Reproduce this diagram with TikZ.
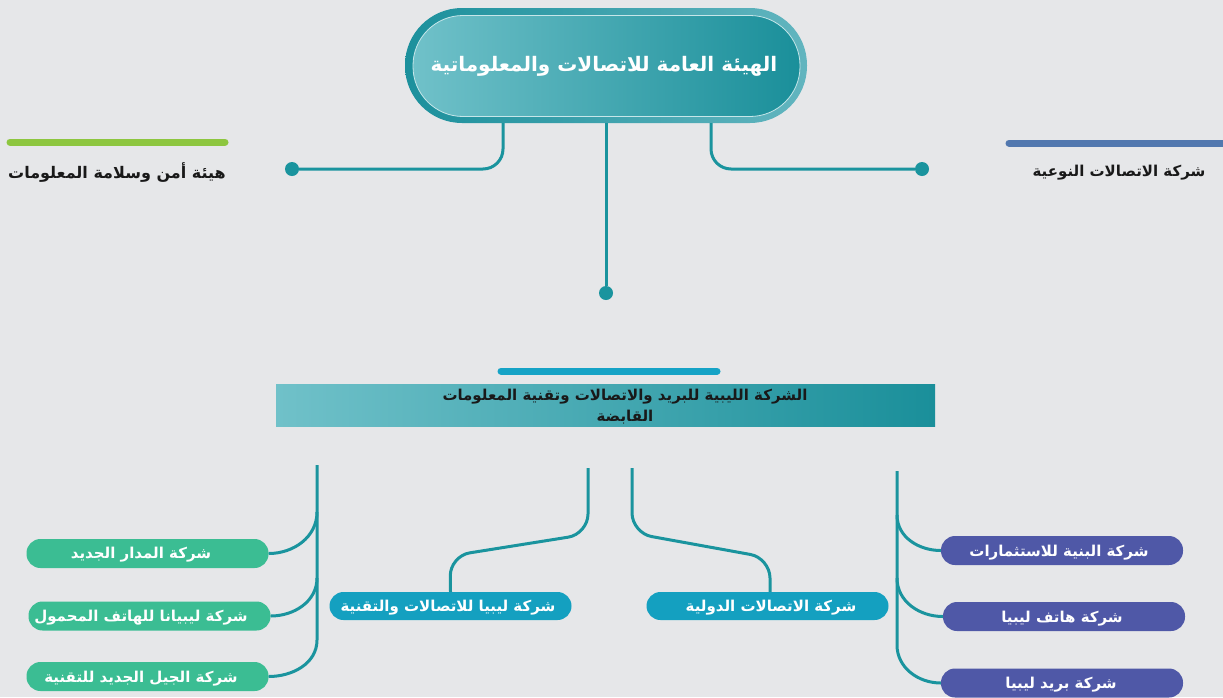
\documentclass[tikz,border=0pt]{standalone}
\usepackage{fontspec}
\TeXXeTstate=1
\newfontfamily\arabicfont[Script=Arabic]{DejaVu Sans}
\definecolor{bgC}{HTML}{E6E7E9}
\definecolor{lineC}{HTML}{1A949E}
\definecolor{greenC}{HTML}{3BBD93}
\definecolor{purpleC}{HTML}{4F58A7}
\definecolor{midC}{HTML}{14A0C0}
\definecolor{barC}{HTML}{16A3C6}
\definecolor{limeC}{HTML}{8DC63F}
\definecolor{steelC}{HTML}{5278AF}
\definecolor{tealDk}{HTML}{1A8F9A}
\definecolor{tealLt}{HTML}{70C1C9}
\definecolor{outerL}{HTML}{1C909C}
\definecolor{outerR}{HTML}{62B5BF}
\tikzset{
  conn/.style={draw=lineC, line width=3pt, rounded corners=20pt},
  dotn/.style={circle, fill=lineC, minimum size=14pt, inner sep=0pt},
  pill/.style={rounded corners=14pt, minimum width=242pt, minimum height=29pt, inner sep=0pt},
  gbox/.style={pill, fill=greenC},
  pbox/.style={pill, fill=purpleC},
  mbox/.style={pill, fill=midC},
  wtxt/.style={text=white, font=\arabicfont\bfseries\fontsize{15}{17}\selectfont, inner sep=0pt},
  ktxt/.style={text=black!90, font=\arabicfont\bfseries\fontsize{16}{18}\selectfont, inner sep=0pt},
  bar/.style={line width=7pt, line cap=round}
}
\begin{document}
\begin{tikzpicture}[x=1pt,y=-1pt]
\useasboundingbox[fill=bgC] (0,0) rectangle (1223,697);
% top node
\node[minimum width=402pt, minimum height=115pt, rounded corners=57pt, left color=outerL, right color=outerR, inner sep=0pt] (top) at (606,65.5) {};
\node[minimum width=387pt, minimum height=101pt, rounded corners=50pt, left color=tealLt, right color=tealDk, draw=white!60!tealLt, line width=0.8pt, inner sep=0pt] (topin) at (606.5,66) {};
\node[text=white, font=\arabicfont\bfseries\fontsize{20}{24}\selectfont, inner sep=0pt] (toptxt) at (604,66) {\beginR الهيئة العامة للاتصالات والمعلوماتية\endR};
% coordinates
\coordinate (cL) at (503,0);
\coordinate (cC) at (606,0);
\coordinate (cR) at (711,0);
\node[dotn] (dotL) at (292,169) {};
\node[dotn] (dotR) at (922,169) {};
\node[dotn] (dotC) at (606,293) {};
\draw[conn] (top.south -| cL) |- (dotL);
\draw[conn] (top.south -| cR) |- (dotR);
\draw[conn, rounded corners=0pt] (top.south -| cC) -- (dotC);
% side labels
\draw[bar, limeC] (10,142) -- (225,142);
\node[ktxt] (lblL) at (117,173) {\beginR هيئة أمن وسلامة المعلومات\endR};
\draw[bar, steelC] (1009,143) -- (1230,143);
\node[ktxt, font=\arabicfont\bfseries\fontsize{15}{18}\selectfont] (lblR) at (1119,173) {\beginR شركة الاتصالات النوعية\endR};
% holding
\draw[bar, barC] (501,371) -- (717,371);
\node[minimum width=659pt, minimum height=42pt, left color=tealLt, right color=tealDk, inner sep=0pt] (hold) at (605.5,405) {};
\node[ktxt, align=center, font=\arabicfont\bfseries\fontsize{15}{21}\selectfont] (holdtxt) at (625,407) {\beginR الشركة الليبية للبريد والاتصالات وتقنية المعلومات\endR\\\beginR القابضة\endR};
% left group
\node[gbox] (g1) at (147.5,553.5) {};
\node[wtxt] at (141,555) {\beginR شركة المدار الجديد\endR};
\node[gbox] (g2) at (149.5,616) {};
\node[wtxt] at (141,618) {\beginR شركة ليبيانا للهاتف المحمول\endR};
\node[gbox] (g3) at (147.5,676.5) {};
\node[wtxt] at (141,679) {\beginR شركة الجيل الجديد للتقنية\endR};
\coordinate (LT) at (317,465);
\draw[conn, rounded corners=0pt] (LT) -- (317,640) to[out=-90,in=0] (g3.east);
\draw[conn, rounded corners=0pt] (317,512) to[out=-90,in=0] (g1.east);
\draw[conn, rounded corners=0pt] (317,578) to[out=-90,in=0] (g2.east);
% right group
\node[pbox] (p1) at (1062,550.5) {};
\node[wtxt] at (1059,553) {\beginR شركة البنية للاستثمارات\endR};
\node[pbox] (p2) at (1064,616.5) {};
\node[wtxt] at (1062,619) {\beginR شركة هاتف ليبيا\endR};
\node[pbox] (p3) at (1062,683) {};
\node[wtxt] at (1061,685) {\beginR شركة بريد ليبيا\endR};
\coordinate (RT) at (897,471);
\draw[conn, rounded corners=0pt] (RT) -- (897,645) to[out=-90,in=180] (p3.west);
\draw[conn, rounded corners=0pt] (897,515) to[out=-90,in=180] (p1.west);
\draw[conn, rounded corners=0pt] (897,578) to[out=-90,in=180] (p2.west);
% middle group
\node[mbox, minimum height=28pt] (m1) at (450.5,606) {};
\node[wtxt] at (448,608) {\beginR شركة ليبيا للاتصالات والتقنية\endR};
\node[mbox, minimum height=28pt] (m2) at (767.5,606) {};
\node[wtxt] at (771,608) {\beginR شركة الاتصالات الدولية\endR};
\coordinate (ML) at (588,468);
\coordinate (MR) at (632,468);
\draw[conn] (ML) -- (588,534) -- (450,556) -- (m1.north);
\draw[conn] (MR) -- (632,533) -- (770,558) -- (m2.north -| 770,0);
\end{tikzpicture}
\end{document}
